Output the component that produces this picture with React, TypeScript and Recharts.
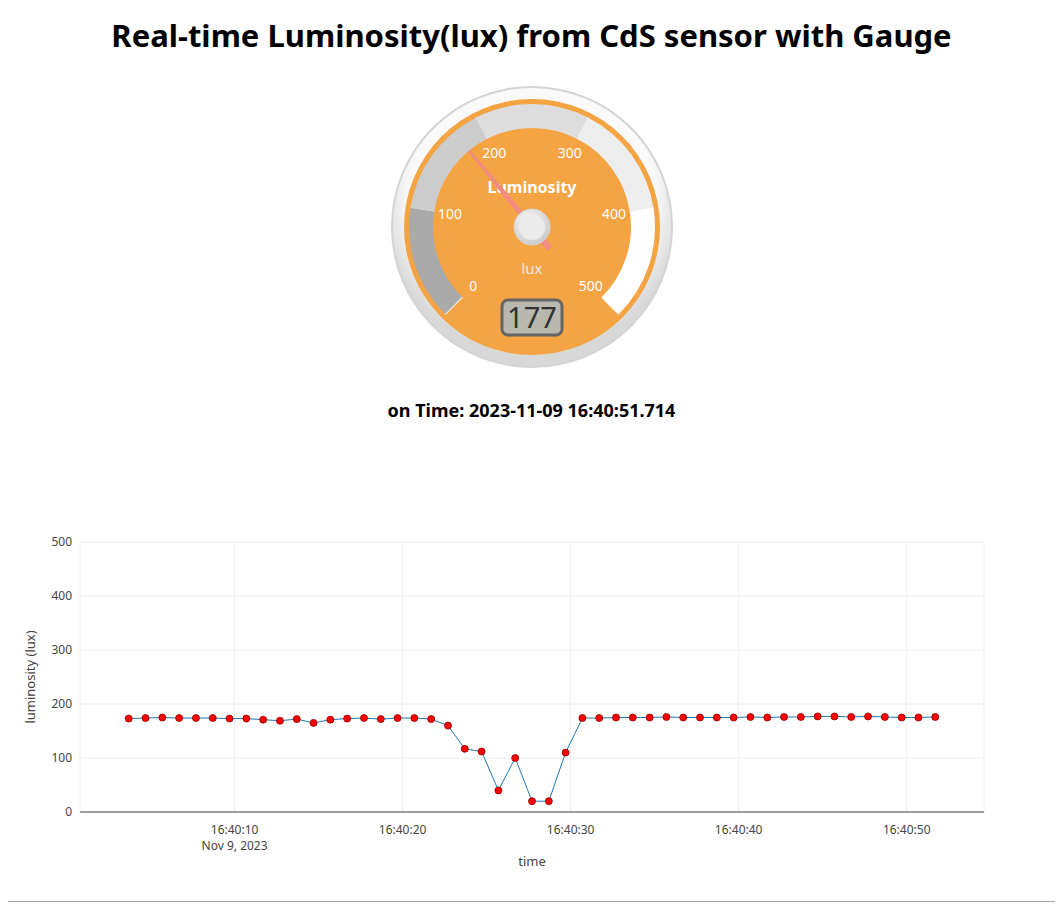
import { LineChart, Line, XAxis, YAxis, CartesianGrid, PieChart, Pie, Cell, Customized } from "recharts";

// seconds past 16:40:00
const times = [
  3.7, 4.7, 5.7, 6.7, 7.7, 8.7, 9.7, 10.7, 11.7, 12.7, 13.7, 14.7, 15.7, 16.7, 17.7, 18.7, 19.7,
  20.7, 21.7, 22.7, 23.7, 24.7, 25.7, 26.7, 27.7, 28.7, 29.7, 30.7, 31.7, 32.7, 33.7, 34.7, 35.7,
  36.7, 37.7, 38.7, 39.7, 40.7, 41.7, 42.7, 43.7, 44.7, 45.7, 46.7, 47.7, 48.7, 49.7, 50.7, 51.7,
];
const lux = [
  173, 174, 175, 174, 174, 174, 173, 173, 171, 169, 172, 165, 171, 173, 174, 172, 174,
  174, 172, 160, 117, 112, 40, 100, 20, 20, 110, 174, 174, 175, 175, 175, 176,
  175, 175, 175, 175, 176, 175, 176, 176, 177, 177, 176, 177, 176, 175, 175, 176,
];
const xTicks = [10, 20, 30, 40, 50];
const yTicks = [0, 100, 200, 300, 400, 500];

const gaugeValue = 177;
const gaugeMax = 500;
const gaugeLabels = [0, 100, 200, 300, 400, 500];
const bands = [
  { name: "0-100", size: 100, color: "#aaaaaa" },
  { name: "100-200", size: 100, color: "#cccccc" },
  { name: "200-300", size: 100, color: "#dddddd" },
  { name: "300-400", size: 100, color: "#eeeeee" },
  { name: "400-500", size: 100, color: "#ffffff" },
];

const chartData = times.map((t, i) => ({ t, lux: lux[i] }));

const START = 225;
const SWEEP = 270;
const C = 150;
const toAngle = (v: number) => ((START - (v / gaugeMax) * SWEEP) * Math.PI) / 180;
const pt = (v: number, r: number) => [C + r * Math.cos(toAngle(v)), C - r * Math.sin(toAngle(v))];

const fmtTime = (s: number) => `16:40:${String(Math.round(s)).padStart(2, "0")}`;

const XTick = (props: any) => {
  const { x, y, payload, index } = props;
  return (
    <g transform={`translate(${x},${y})`}>
      <text dy={14} textAnchor="middle" fill="#444" fontSize={12}>{fmtTime(payload.value)}</text>
      {index === 0 && <text dy={30} textAnchor="middle" fill="#444" fontSize={12}>Nov 9, 2023</text>}
    </g>
  );
};

const GaugeDecor = () => {
  const minor = [];
  for (let v = 0; v <= gaugeMax; v += 10) {
    if (v % 100 === 0) continue;
    const [x1, y1] = pt(v, 111);
    const [x2, y2] = pt(v, 122);
    minor.push(<line key={"m" + v} x1={x1} y1={y1} x2={x2} y2={y2} stroke="#888" strokeWidth={1} />);
  }
  const major = gaugeLabels.map((v) => {
    const [x1, y1] = pt(v, 99);
    const [x2, y2] = pt(v, 123);
    return <line key={"M" + v} x1={x1} y1={y1} x2={x2} y2={y2} stroke="#f4f4f4" strokeWidth={2} />;
  });
  const labels = gaugeLabels.map((v) => {
    const [x, y] = pt(v, 83);
    return (
      <text key={"l" + v} x={x} y={y + 5} textAnchor="middle" fill="#fff" fontSize={14}>{v}</text>
    );
  });
  const a = toAngle(gaugeValue);
  const ux = Math.cos(a), uy = -Math.sin(a);
  const px = -uy, py = ux;
  const tip = [C + ux * 117, C + uy * 117];
  const tail = [C - ux * 28, C - uy * 28];
  const needle = `M${tip[0] + px * 1},${tip[1] + py * 1} L${tip[0] - px * 1},${tip[1] - py * 1} L${tail[0] - px * 3.5},${tail[1] - py * 3.5} L${tail[0] + px * 3.5},${tail[1] + py * 3.5} Z`;
  return (
    <g>
      {minor}
      {major}
      {labels}
      <text x={C} y={C - 34} textAnchor="middle" fill="#fff" fontSize={16} fontWeight="bold">Luminosity</text>
      <text x={C} y={C + 47} textAnchor="middle" fill="#e6e6e6" fontSize={15}>lux</text>
      <path d={needle} fill="#f28c80" />
      <circle cx={C} cy={C} r={18} fill="url(#knob)" stroke="#d4d4d4" />
      <circle cx={C} cy={C} r={13} fill="#ececec" />
      <rect x={C - 30} y={C + 73} width={60} height={35} rx={6} fill="#b8b8ae" stroke="#666" strokeWidth={3} />
      <text x={C} y={C + 101} textAnchor="middle" fill="#333" fontSize={29}>{gaugeValue}</text>
    </g>
  );
};

export default function App() {
  return (
    <div style={{ position: "relative", width: 1047, height: 893, fontFamily: "'Noto Sans', sans-serif", borderBottom: "1px solid #aaa" }}>
      <div style={{ position: "absolute", top: 6, width: "100%", textAlign: "center", fontSize: 31, fontWeight: "bold" }}>
        Real-time Luminosity(lux) from CdS sensor with Gauge
      </div>
      <div style={{ position: "absolute", left: 374, top: 69 }}>
        <PieChart width={300} height={300} margin={{ top: 0, right: 0, bottom: 0, left: 0 }}>
          <defs>
            <radialGradient id="rim" cx="50%" cy="40%" r="55%">
              <stop offset="80%" stopColor="#fafafa" />
              <stop offset="100%" stopColor="#d8d8d8" />
            </radialGradient>
            <radialGradient id="knob" cx="40%" cy="35%" r="70%">
              <stop offset="0%" stopColor="#fafafa" />
              <stop offset="100%" stopColor="#c8c8c8" />
            </radialGradient>
          </defs>
          <circle cx={C} cy={C} r={141} fill="#d4d4d4" />
          <circle cx={C} cy={C} r={139} fill="url(#rim)" />
          <circle cx={C} cy={C} r={128} fill="#f4a443" />
          <Pie data={bands} dataKey="size" cx={C} cy={C} innerRadius={99} outerRadius={123}
            startAngle={START} endAngle={START - SWEEP} stroke="none" isAnimationActive={false}>
            {bands.map((b) => <Cell key={b.name} fill={b.color} />)}
          </Pie>
          <Customized component={GaugeDecor} />
        </PieChart>
      </div>
      <div style={{ position: "absolute", top: 390, width: "100%", textAlign: "center", fontSize: 18, fontWeight: "bold" }}>
        on Time: 2023-11-09 16:40:51.714
      </div>
      <div style={{ position: "absolute", left: 0, top: 512 }}>
        <LineChart width={1047} height={360} data={chartData} margin={{ top: 22, right: 71, bottom: 10, left: 0 }}>
          <CartesianGrid stroke="#eeeeee" />
          <XAxis dataKey="t" type="number" domain={[0.8, 54.6]} ticks={xTicks} tick={<XTick />}
            tickLine={false} axisLine={{ stroke: "#444" }} height={58}
            label={{ value: "time", position: "insideBottom", offset: 4, fill: "#444", fontSize: 13 }} />
          <YAxis type="number" domain={[0, 500]} ticks={yTicks} width={72} axisLine={false} tickLine={false}
            tick={{ fill: "#444", fontSize: 12 }}
            label={{ value: "luminosity (lux)", angle: -90, position: "insideLeft", offset: 22, fill: "#444", fontSize: 13, style: { textAnchor: "middle" } }} />
          <Line dataKey="lux" stroke="#1f77b4" strokeWidth={1} isAnimationActive={false}
            dot={{ r: 3.5, fill: "#ff0000", stroke: "#8b0000", strokeWidth: 0.8 }} />
        </LineChart>
      </div>
    </div>
  );
}
